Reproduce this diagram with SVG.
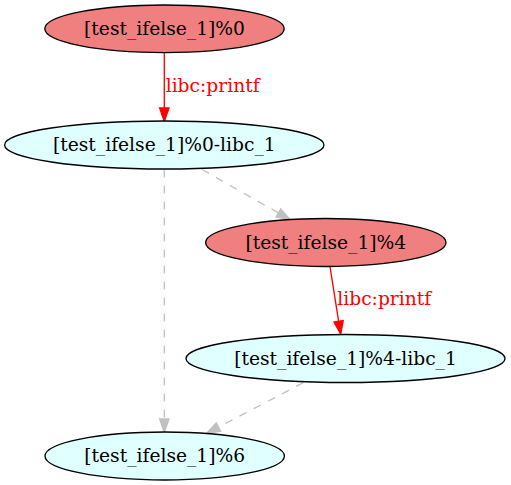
<svg xmlns="http://www.w3.org/2000/svg" width="511" height="485" viewBox="0 0 511 485">
<style>
text{font-family:"DejaVu Serif","Liberation Serif",serif;font-size:18.67px}
.n text{text-anchor:middle;fill:#000}
.hot ellipse{fill:#f08080;stroke:#000;stroke-width:1.33}
.lib ellipse{fill:#e0ffff;stroke:#000;stroke-width:1.33}
.call line{stroke:#ff0000;stroke-width:1.33}
.call polygon{fill:#ff0000;stroke:#ff0000;stroke-width:1.33}
.call text{fill:#ff0000}
.flow line{stroke:#c0c0c0;stroke-width:1.33;stroke-dasharray:8,8}
.flow polygon{fill:#c0c0c0;stroke:#c0c0c0;stroke-width:1.33}
</style>
<rect width="511" height="485" fill="#fff"/>
<g id="connectors">
  <g class="call">
    <line x1="164.3" y1="52.7" x2="164.3" y2="108"/>
    <polygon points="164.3,121.5 159.6,108 169,108"/>
    <text x="165.7" y="92">libc:printf</text>
  </g>
  <g class="flow">
    <line x1="164.3" y1="169.5" x2="164.3" y2="419"/>
    <polygon points="164.3,432.5 159.6,419 169,419"/>
  </g>
  <g class="flow">
    <line x1="202" y1="169.5" x2="278.4" y2="212.9"/>
    <polygon points="290,219.5 276.1,217 280.7,208.9"/>
  </g>
  <g class="call">
    <line x1="330" y1="266.7" x2="338.6" y2="321.2"/>
    <polygon points="340.7,334.3 334,321.9 343.2,320.5"/>
    <text x="337.3" y="305">libc:printf</text>
  </g>
  <g class="flow">
    <line x1="303.3" y1="382.7" x2="218.5" y2="427.1"/>
    <polygon points="206.7,433.3 216.3,423 220.7,431.2"/>
  </g>
</g>
<g id="node0" class="n hot">
  <ellipse cx="164.5" cy="28.8" rx="119.7" ry="23.8"/>
  <text x="164.5" y="35">[test_ifelse_1]%0</text>
</g>
<g id="node1" class="n lib">
  <ellipse cx="164.3" cy="145" rx="159.7" ry="24"/>
  <text x="164.3" y="151.2">[test_ifelse_1]%0-libc_1</text>
</g>
<g id="node4" class="n hot">
  <ellipse cx="325.8" cy="242.5" rx="120.2" ry="24"/>
  <text x="325.8" y="248.7">[test_ifelse_1]%4</text>
</g>
<g id="node4libc" class="n lib">
  <ellipse cx="345.5" cy="358.5" rx="159.5" ry="24"/>
  <text x="345.5" y="364.7">[test_ifelse_1]%4-libc_1</text>
</g>
<g id="node6" class="n lib">
  <ellipse cx="164.7" cy="456" rx="119.7" ry="24"/>
  <text x="164.7" y="462.2">[test_ifelse_1]%6</text>
</g>
</svg>
